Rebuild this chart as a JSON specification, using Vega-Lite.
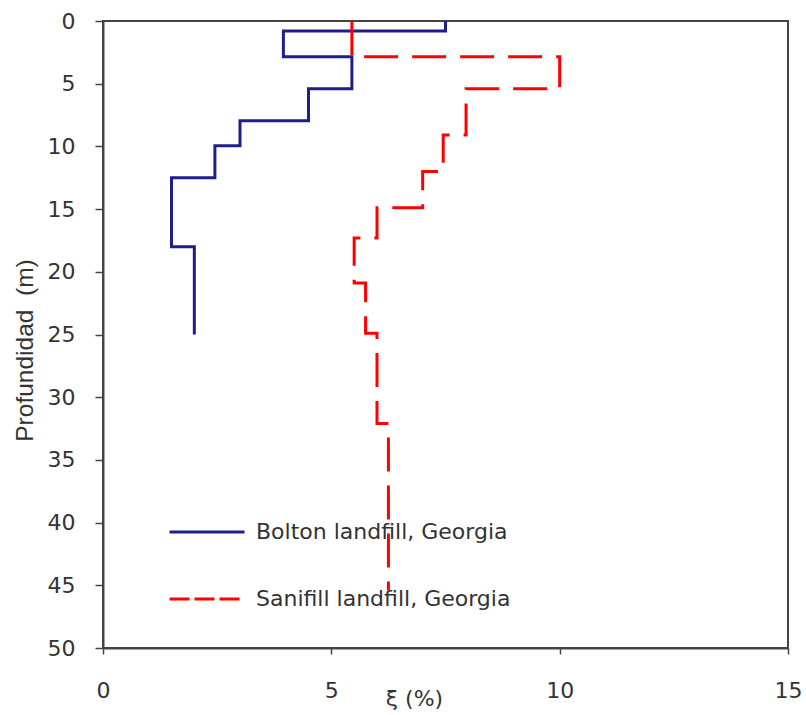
{
  "$schema": "https://vega.github.io/schema/vega-lite/v6.json",
  "width": 685,
  "height": 627,
  "autosize": {"type": "none"},
  "padding": {"left": 103, "top": 21, "right": 18, "bottom": 67},
  "background": "white",
  "config": {
    "view": {"stroke": "#444", "strokeWidth": 2},
    "font": "DejaVu Sans"
  },
  "data": {
    "values": [
      {"site": "Bolton landfill, Georgia", "xi": 7.5, "depth": 0},
      {"site": "Bolton landfill, Georgia", "xi": 3.95, "depth": 0.8},
      {"site": "Bolton landfill, Georgia", "xi": 5.45, "depth": 2.85},
      {"site": "Bolton landfill, Georgia", "xi": 4.5, "depth": 5.4},
      {"site": "Bolton landfill, Georgia", "xi": 3.0, "depth": 7.95},
      {"site": "Bolton landfill, Georgia", "xi": 2.45, "depth": 9.95},
      {"site": "Bolton landfill, Georgia", "xi": 1.5, "depth": 12.5},
      {"site": "Bolton landfill, Georgia", "xi": 2.0, "depth": 18},
      {"site": "Bolton landfill, Georgia", "xi": 2.0, "depth": 25},
      {"site": "Sanifill landfill, Georgia", "xi": 5.45, "depth": 0},
      {"site": "Sanifill landfill, Georgia", "xi": 10.0, "depth": 2.85},
      {"site": "Sanifill landfill, Georgia", "xi": 7.95, "depth": 5.4},
      {"site": "Sanifill landfill, Georgia", "xi": 7.45, "depth": 9.1},
      {"site": "Sanifill landfill, Georgia", "xi": 7.0, "depth": 12},
      {"site": "Sanifill landfill, Georgia", "xi": 6.0, "depth": 14.9},
      {"site": "Sanifill landfill, Georgia", "xi": 5.5, "depth": 17.3},
      {"site": "Sanifill landfill, Georgia", "xi": 5.75, "depth": 20.9},
      {"site": "Sanifill landfill, Georgia", "xi": 6.0, "depth": 24.9},
      {"site": "Sanifill landfill, Georgia", "xi": 6.25, "depth": 32.1},
      {"site": "Sanifill landfill, Georgia", "xi": 6.25, "depth": 45.4}
    ]
  },
  "encoding": {
    "x": {
      "field": "xi", "type": "quantitative",
      "scale": {"domain": [0, 15], "nice": false, "zero": false},
      "axis": {
        "values": [0, 5, 10, 15], "grid": false,
        "title": "ξ (%)", "titleX": 311, "titleY": 50, "titleBaseline": "middle", "titleAlign": "center",
        "titleFont": "DejaVu Sans", "titleFontSize": 22, "titleFontWeight": "normal", "titleColor": "#333",
        "labelFont": "DejaVu Sans", "labelFontSize": 22, "labelColor": "#333",
        "labelBaseline": "middle", "labelPadding": 36, "tickSize": 6,
        "domainColor": "#444", "domainWidth": 2, "tickColor": "#444", "tickWidth": 1.5,
        "labelFlush": false, "labelOverlap": false
      }
    },
    "y": {
      "field": "depth", "type": "quantitative",
      "scale": {"domain": [0, 50], "reverse": true, "nice": false},
      "axis": {
        "values": [0, 5, 10, 15, 20, 25, 30, 35, 40, 45, 50], "grid": false,
        "title": "Profundidad \u00a0(m)", "titleFont": "Liberation Sans", "titleFontSize": 24.5,
        "titleFontWeight": "normal", "titleColor": "#333", "titlePadding": 10,
        "titleY": 329, "titleAlign": "center",
        "labelFont": "DejaVu Sans", "labelFontSize": 22, "labelColor": "#333",
        "labelPadding": 20, "tickSize": 8,
        "domainColor": "#444", "domainWidth": 2, "tickColor": "#444", "tickWidth": 1.5,
        "labelFlush": false, "labelOverlap": false
      }
    },
    "order": {"field": "depth", "type": "quantitative"},
    "color": {
      "field": "site", "type": "nominal",
      "scale": {"domain": ["Bolton landfill, Georgia", "Sanifill landfill, Georgia"], "range": ["#1f1f8a", "#ff0000"]},
      "legend": {
        "title": null, "orient": "none", "legendX": 65, "legendY": 472,
        "symbolType": "stroke", "symbolSize": 5625, "symbolStrokeWidth": 3,
        "labelFont": "DejaVu Sans", "labelFontSize": 22, "labelColor": "#333", "labelOffset": 10, "labelLimit": 500,
        "rowPadding": 17, "padding": 0,
        "encode": {
          "symbols": {
            "update": {
              "strokeDash": {"signal": "datum.value === 'Sanifill landfill, Georgia' ? [20, 5] : [1, 0]"}
            }
          }
        }
      }
    }
  },
  "layer": [
    {
      "transform": [{"filter": "datum.site === 'Bolton landfill, Georgia'"}],
      "mark": {"type": "line", "interpolate": "step-before", "strokeWidth": 3, "clip": true}
    },
    {
      "transform": [{"filter": "datum.site === 'Sanifill landfill, Georgia'"}],
      "mark": {"type": "line", "interpolate": "step-before", "strokeWidth": 3, "strokeDash": [34, 14], "clip": true}
    }
  ]
}
